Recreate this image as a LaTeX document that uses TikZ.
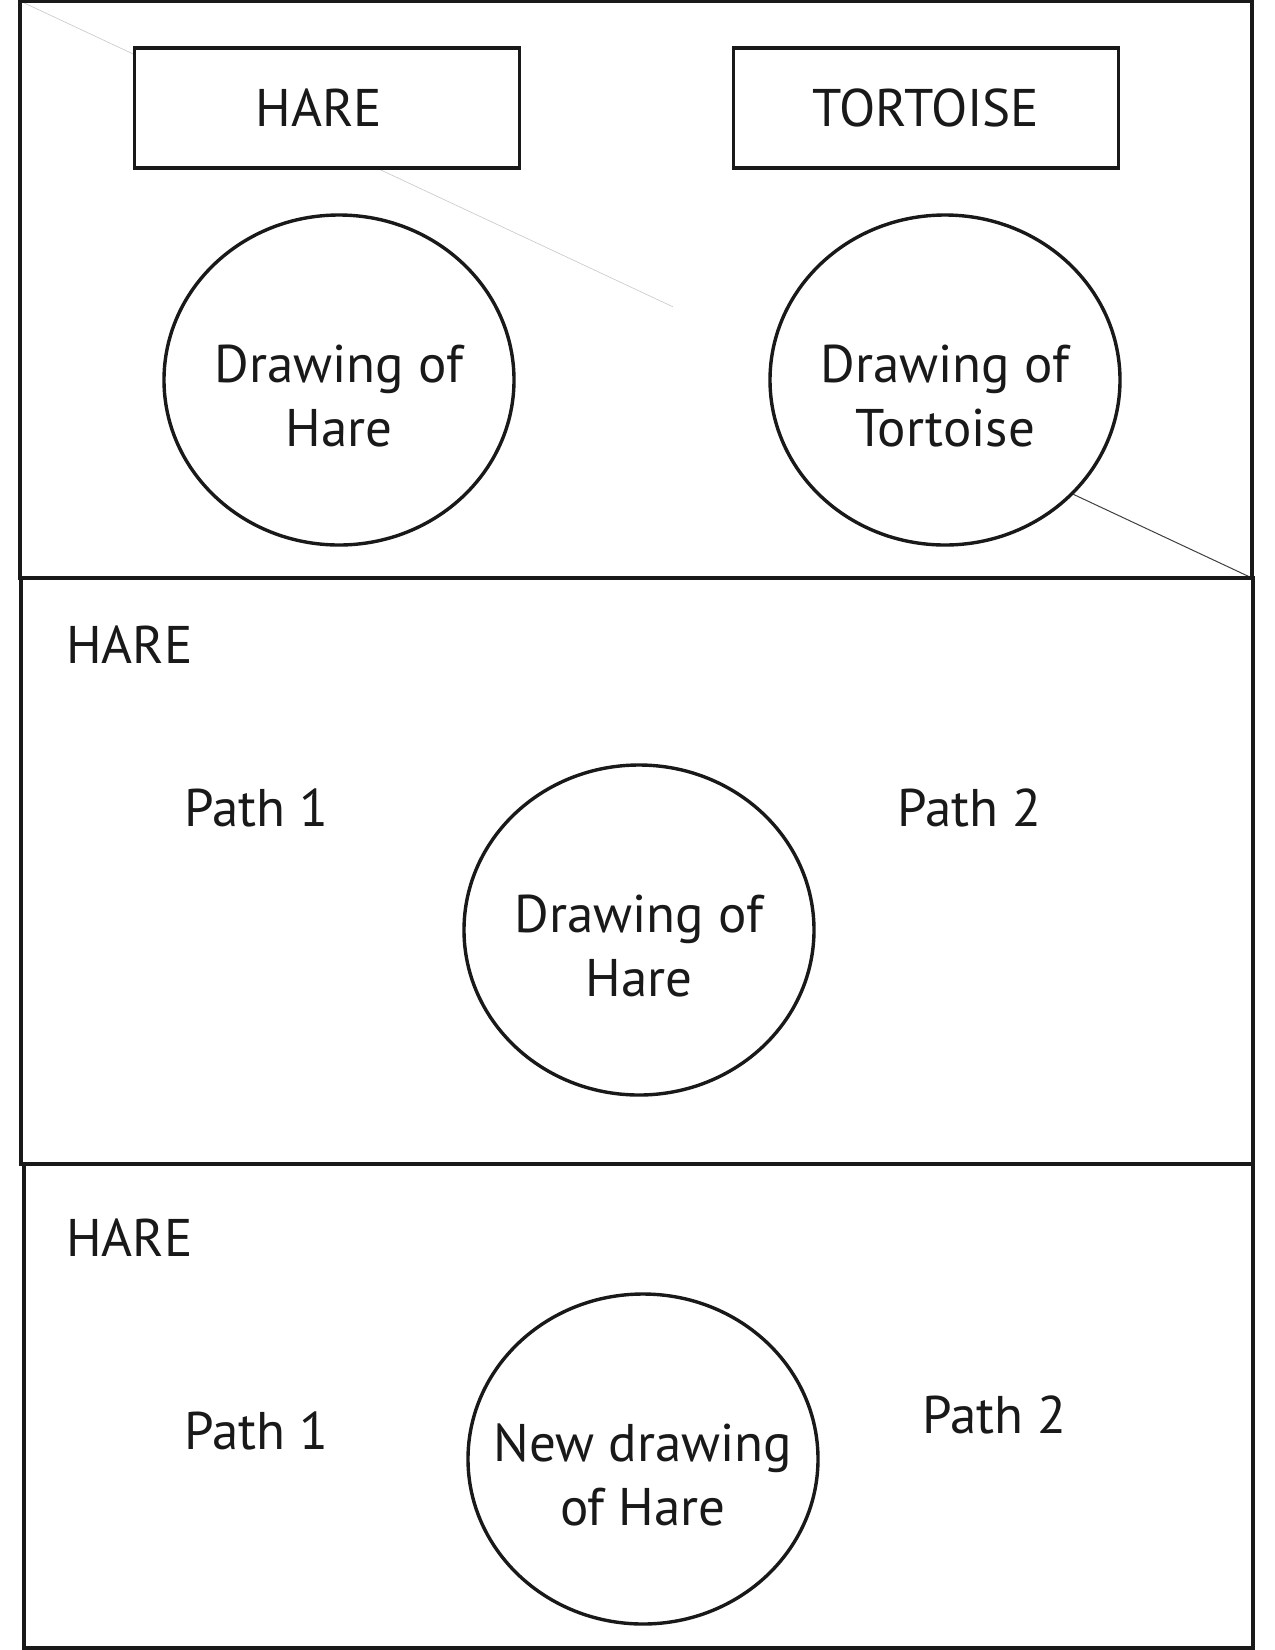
\documentclass[tikz,border=0pt]{standalone}
\usepackage{fontspec}
\setmainfont{PT Sans}
\usetikzlibrary{shapes.geometric,calc}
\begin{document}
\begin{tikzpicture}[x=1pt,y=-1pt,
  panel/.style={draw=black!90,line width=3.6pt},
  titlebox/.style={draw=black!90,line width=3.6pt,fill=white,minimum width=385pt,minimum height=120pt,inner sep=0pt},
  oval/.style={ellipse,draw=black!90,line width=3.4pt,fill=white,minimum width=350pt,minimum height=330pt,inner sep=0pt},
  lbl/.style={font=\fontsize{53}{64}\selectfont,text=black!90,inner sep=0pt,align=center},
  inlbl/.style={lbl,yshift=-16pt},
  side/.style={lbl,anchor=west}]
\useasboundingbox (0,0) rectangle (1275,1650);
\fill[white] (0,0) rectangle (1275,1650);
% panel corners
\coordinate (tnw) at (20,1);
\coordinate (tse) at (1252,578);
% faint diagonal across top panel
\draw[black!22,line width=0.6pt] (tnw) -- ($(tnw)!0.53!(tse)$);
\draw[black!75,line width=1pt] ($(tnw)!0.855!(tse)$) -- (tse);
% panels
\draw[panel] (tnw) rectangle (tse);
\draw[panel] (21,578) rectangle (1253,1164);
\draw[panel] (24,1164) rectangle (1253,1648);
% top panel
\node[titlebox] (hbox) at (327,108) {};
\node[lbl] (htitle) at ([xshift=-8pt]hbox.center) {HARE};
\node[titlebox] (tbox) at (926,108) {};
\node[lbl] (ttitle) at (tbox.center) {TORTOISE};
\node[oval] (hcirc) at (339,380) {};
\node[inlbl] (htext) at (hcirc.center) {Drawing of\\Hare};
\node[oval] (tcirc) at (945,380) {};
\node[inlbl] (ttext) at (tcirc.center) {Drawing of\\Tortoise};
% middle panel
\node[side] (mhare) at (66,645) {HARE};
\node[side] (mp1) at (184,808) {Path 1};
\node[side] (mp2) at (897,808) {Path 2};
\node[oval] (mcirc) at (639,930) {};
\node[inlbl] (mtext) at (mcirc.center) {Drawing of\\Hare};
% bottom panel
\node[side] (bhare) at (66,1238) {HARE};
\node[side] (bp1) at (184,1431) {Path 1};
\node[side] (bp2) at (922,1415) {Path 2};
\node[oval] (bcirc) at (643,1459) {};
\node[inlbl] (btext) at (bcirc.center) {New drawing\\of Hare};
\end{tikzpicture}
\end{document}
